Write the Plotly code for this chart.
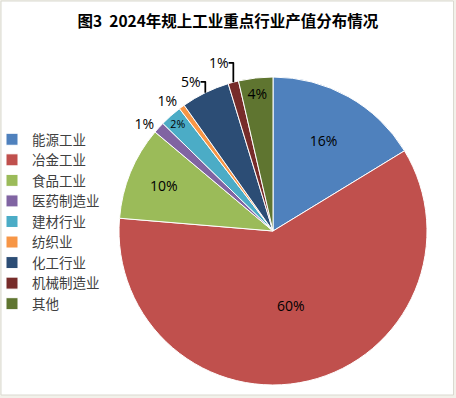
import plotly.graph_objects as go

categories = ["能源工业", "冶金工业", "食品工业", "医药制造业", "建材行业", "纺织业", "化工行业", "机械制造业", "其他"]
values = [16.3, 60.1, 9.8, 1.2, 2.3, 0.6, 5.1, 1.1, 3.6]
colors = ["#4F81BD", "#C0504D", "#9BBB59", "#8064A2", "#4BACC6", "#F79646", "#2C4D75", "#772C2A", "#5F7530"]
text_positions = ["inside", "inside", "inside", "outside", "inside", "outside", "outside", "outside", "inside"]

W, H = 456, 398
cx, cy, r = 273, 231, 154

fig = go.Figure(go.Pie(
    labels=categories,
    values=values,
    sort=False,
    direction="clockwise",
    rotation=0,
    marker=dict(colors=colors, line=dict(color="#FFFFFF", width=1)),
    texttemplate="%{percent:.0%}",
    textposition=text_positions,
    insidetextorientation="horizontal",
    textfont=dict(family="Open Sans, Noto Sans CJK SC", size=14, color="#000000"),
    outsidetextfont=dict(family="Open Sans, Noto Sans CJK SC", size=14, color="#000000"),
    domain=dict(x=[(cx - r) / W, (cx + r) / W], y=[(H - cy - r) / H, (H - cy + r) / H]),
    hoverinfo="label+percent",
))

fig.update_layout(
    width=W, height=H,
    margin=dict(l=0, r=0, t=0, b=0, autoexpand=False),
    paper_bgcolor="#F2F1EA",
    title=dict(text="<b>图3  2024年规上工业重点行业产值分布情况</b>", x=0.5, xanchor="center",
               y=1 - 22 / H, yanchor="middle",
               font=dict(family="Noto Sans CJK SC", size=15.5, color="#000000")),
    legend=dict(x=-8 / W, y=1 - 124 / H, xanchor="left", yanchor="top",
                font=dict(family="Noto Sans CJK SC", size=13.5, color="#404040"),
                itemwidth=30, tracegroupgap=0, bgcolor="rgba(0,0,0,0)"),
    shapes=[dict(type="rect", xref="paper", yref="paper", x0=1 / W, y0=3 / H, x1=453.5 / W, y1=1 - 1 / H,
                 fillcolor="#FFFFFF", line=dict(color="#DAD9D0", width=1), layer="below")],
)

fig.write_html("out.html", config={"displayModeBar": False},
               post_script="document.body.style.margin='0';document.body.style.overflow='hidden';")
